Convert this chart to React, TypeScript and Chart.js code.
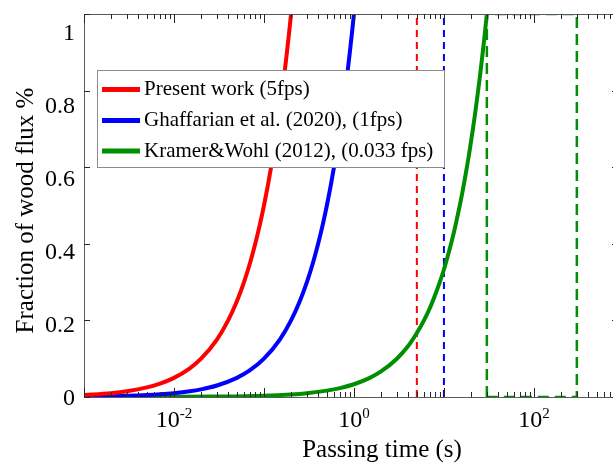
import React, { useEffect, useRef } from "react";
import { Chart, registerables } from "chart.js";

Chart.register(...registerables);

// Passing time (s) and fraction of wood flux for each acquisition rate
const presentTime = [0.001, 0.002, 0.003, 0.005, 0.007, 0.01, 0.015, 0.02, 0.03, 0.04, 0.05, 0.06, 0.07, 0.08, 0.09, 0.1, 0.11, 0.12, 0.13, 0.14, 0.15, 0.16, 0.17, 0.18, 0.19, 0.2];
const presentFrac = [0.005, 0.01, 0.015, 0.025, 0.035, 0.05, 0.075, 0.1, 0.15, 0.2, 0.25, 0.3, 0.35, 0.4, 0.45, 0.5, 0.55, 0.6, 0.65, 0.7, 0.75, 0.8, 0.85, 0.9, 0.95, 1.0];

const ghaffarianTime = [0.001, 0.002, 0.003, 0.005, 0.007, 0.01, 0.015, 0.02, 0.03, 0.05, 0.07, 0.1, 0.15, 0.2, 0.25, 0.3, 0.35, 0.4, 0.45, 0.5, 0.55, 0.6, 0.65, 0.7, 0.75, 0.8, 0.85, 0.9, 0.95, 1.0];
const ghaffarianFrac = [0.001, 0.002, 0.003, 0.005, 0.007, 0.01, 0.015, 0.02, 0.03, 0.05, 0.07, 0.1, 0.15, 0.2, 0.25, 0.3, 0.35, 0.4, 0.45, 0.5, 0.55, 0.6, 0.65, 0.7, 0.75, 0.8, 0.85, 0.9, 0.95, 1.0];

const kramerTime = [0.001, 0.003, 0.01, 0.03, 0.1, 0.2, 0.3, 0.5, 0.7, 1, 1.5, 2, 3, 4, 5, 6, 7, 8, 9, 10, 11, 12, 13, 14, 15, 16, 17, 18, 19, 20, 21, 22, 23, 24, 25, 26, 27, 28, 29, 30];
const kramerFrac = [0.00003, 0.0001, 0.0003, 0.001, 0.0033, 0.0067, 0.01, 0.0167, 0.0233, 0.0333, 0.05, 0.0667, 0.1, 0.133, 0.167, 0.2, 0.233, 0.267, 0.3, 0.333, 0.367, 0.4, 0.433, 0.467, 0.5, 0.533, 0.567, 0.6, 0.633, 0.667, 0.7, 0.733, 0.767, 0.8, 0.833, 0.867, 0.9, 0.933, 0.967, 1.0];

// Frame periods marked by dashed lines, and the observation window of the 0.033 fps study
const presentCutoff = 5;
const ghaffarianCutoff = 10;
const kramerWindow = [30, 300];

const seriesLabels = [
  "Present work (5fps)",
  "Ghaffarian et al. (2020), (1fps)",
  "Kramer&Wohl (2012), (0.033 fps)",
];
const seriesColors = ["#ff0000", "#0000ff", "#008f00"];

const xMin = 0.001;
const xMax = 860;
const yTickValues = [0, 0.2, 0.4, 0.6, 0.8, 1];
const yTickLabels = ["0", "0.2", "0.4", "0.6", "0.8", "1"];
const xLabelValues = [0.01, 1, 100];
const xLabelExponents = ["-2", "0", "2"];
const xTitle = "Passing time (s)";
const yTitle = "Fraction of wood flux %";

const SERIF = '"Liberation Serif", serif';

const toPoints = (xs: number[], ys: number[]) => xs.map((x, i) => ({ x, y: ys[i] }));

const framePlugin = {
  id: "frame",
  afterDatasetsDraw(chart: any) {
    // legend box inside the plot
    const ctx = chart.ctx as CanvasRenderingContext2D;
    const boxL = 97, boxT = 70, boxW = 347, boxH = 97;
    ctx.save();
    ctx.fillStyle = "#ffffff";
    ctx.fillRect(boxL, boxT, boxW, boxH);
    ctx.strokeStyle = "#8c8c8c";
    ctx.lineWidth = 1;
    ctx.strokeRect(boxL + 0.5, boxT + 0.5, boxW, boxH);
    const rows = [89.5, 120.5, 151];
    ctx.font = `21px ${SERIF}`;
    ctx.textBaseline = "alphabetic";
    ctx.textAlign = "left";
    seriesLabels.forEach((label, i) => {
      ctx.strokeStyle = seriesColors[i];
      ctx.lineWidth = 5;
      ctx.beginPath();
      ctx.moveTo(102, rows[i]);
      ctx.lineTo(140, rows[i]);
      ctx.stroke();
      ctx.fillStyle = "#000";
      ctx.fillText(label, 144, rows[i] + 5.5);
    });
    ctx.restore();
  },
  afterDraw(chart: any) {
    const ctx = chart.ctx as CanvasRenderingContext2D;
    const { left, right, top, bottom } = chart.chartArea;
    const xs = chart.scales.x;
    const ys = chart.scales.y;
    ctx.save();

    // axis box
    ctx.strokeStyle = "#5a5a5a";
    ctx.lineWidth = 1;
    ctx.strokeRect(left + 0.5, top + 0.5, right - left, bottom - top);

    // log ticks on bottom and top, pointing inward
    ctx.strokeStyle = "#262626";
    ctx.beginPath();
    for (let d = -3; d <= 3; d++) {
      for (let m = 1; m <= 9; m++) {
        const v = m * Math.pow(10, d);
        if (v < xMin || v > xMax) continue;
        const px = Math.round(xs.getPixelForValue(v)) + 0.5;
        const len = m === 1 ? 9 : 5;
        ctx.moveTo(px, bottom);
        ctx.lineTo(px, bottom - len);
        ctx.moveTo(px, top);
        ctx.lineTo(px, top + len);
      }
    }
    // linear ticks on left and right
    yTickValues.forEach((v) => {
      const py = Math.round(ys.getPixelForValue(v)) + 0.5;
      ctx.moveTo(left, py);
      ctx.lineTo(left + 6, py);
      ctx.moveTo(right, py);
      ctx.lineTo(right - 6, py);
    });
    ctx.stroke();

    ctx.fillStyle = "#000";
    // y tick labels
    ctx.font = `24px ${SERIF}`;
    ctx.textAlign = "right";
    ctx.textBaseline = "alphabetic";
    yTickValues.forEach((v, i) => {
      const py = bottom + (ys.getPixelForValue(v) - bottom) * 0.953;
      ctx.fillText(yTickLabels[i], 75, py + 8);
    });

    // x tick labels with superscript exponents
    ctx.textAlign = "left";
    xLabelValues.forEach((v, i) => {
      const px = xs.getPixelForValue(v);
      ctx.font = `24px ${SERIF}`;
      const wBase = ctx.measureText("10").width;
      ctx.font = `15px ${SERIF}`;
      const wSup = ctx.measureText(xLabelExponents[i]).width;
      const start = px - (wBase + wSup) / 2;
      ctx.font = `24px ${SERIF}`;
      ctx.fillText("10", start, bottom + 30);
      ctx.font = `15px ${SERIF}`;
      ctx.fillText(xLabelExponents[i], start + wBase, bottom + 21);
    });

    // axis titles
    ctx.font = `25px ${SERIF}`;
    ctx.textAlign = "center";
    ctx.fillText(xTitle, (left + right) / 2 + 31, bottom + 60);
    ctx.translate(33, (top + bottom) / 2 + 5);
    ctx.rotate(-Math.PI / 2);
    ctx.fillText(yTitle, 0, 0);
    ctx.restore();
  },
};

export default function App() {
  const canvasRef = useRef<HTMLCanvasElement | null>(null);

  useEffect(() => {
    let chart: Chart | null = null;
    let cancelled = false;

    const curve = (i: number, xs: number[], ys: number[]) => ({
      label: seriesLabels[i],
      data: toPoints(xs, ys),
      borderColor: seriesColors[i],
      borderWidth: 4,
      pointRadius: 0,
      cubicInterpolationMode: "monotone",
      fill: false,
      order: 0,
    });
    const dashed = (color: string, xs: number[], ys: number[], dash: number[], width: number) => ({
      label: "",
      data: toPoints(xs, ys),
      borderColor: color,
      borderWidth: width,
      borderDash: dash,
      pointRadius: 0,
      tension: 0,
      fill: false,
      order: 1,
    });

    const build = () => {
      if (cancelled || !canvasRef.current) return;
      chart = new Chart(canvasRef.current, {
        type: "line",
        data: {
          datasets: [
            curve(0, presentTime, presentFrac),
            curve(1, ghaffarianTime, ghaffarianFrac),
            curve(2, kramerTime, kramerFrac),
            dashed(seriesColors[0], [presentCutoff, presentCutoff], [0, 1], [7, 5], 2),
            dashed(seriesColors[1], [ghaffarianCutoff, ghaffarianCutoff], [0, 1], [7, 5], 2),
            dashed(
              seriesColors[2],
              [kramerWindow[0], kramerWindow[0], kramerWindow[1], kramerWindow[1], kramerWindow[0]],
              [0, 1, 1, 0, 0],
              [11, 6],
              2.5
            ),
          ] as any,
        },
        options: {
          responsive: false,
          animation: false,
          layout: { padding: { left: 84, top: 14, right: 22, bottom: 67 } },
          scales: {
            x: { type: "logarithmic", min: xMin, max: xMax, display: false },
            y: { type: "linear", min: 0, max: 1, display: false },
          },
          plugins: {
            legend: { display: false },
            tooltip: { enabled: false },
          },
        },
        plugins: [framePlugin],
      });
    };

    const fonts = (document as any).fonts;
    if (fonts && fonts.load) {
      Promise.all([
        fonts.load('24px "Liberation Serif"'),
        fonts.load('15px "Liberation Serif"'),
      ]).then(build, build);
    } else {
      build();
    }

    return () => {
      cancelled = true;
      if (chart) chart.destroy();
    };
  }, []);

  return (
    <div
      style={{
        position: "fixed",
        left: 0,
        top: 0,
        width: 613,
        height: 464,
        overflow: "hidden",
        background: "#fff",
      }}
    >
      <span
        style={{
          position: "absolute",
          left: -1000,
          top: 0,
          fontFamily: '"Liberation Serif", serif',
          fontSize: 24,
        }}
      >
        0.8
      </span>
      <canvas ref={canvasRef} width={640} height={464} style={{ display: "block" }} />
    </div>
  );
}
